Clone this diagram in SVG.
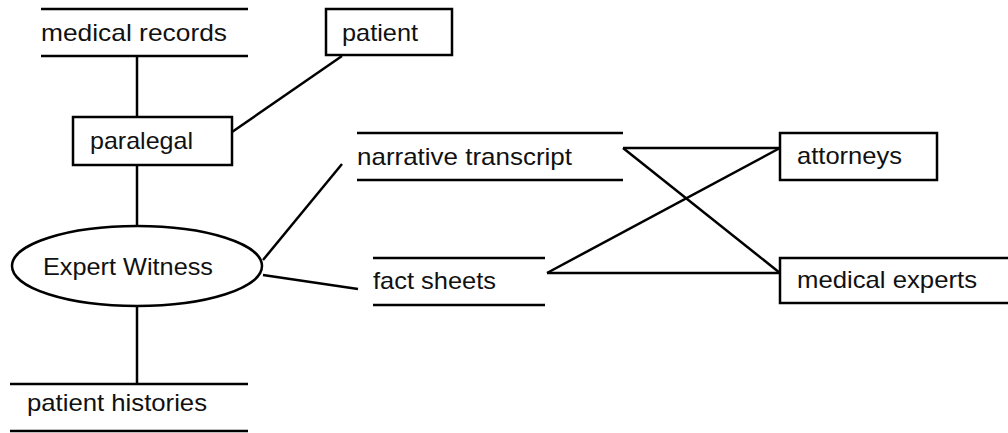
<svg xmlns="http://www.w3.org/2000/svg" width="1008" height="433" viewBox="0 0 1008 433">
<style>
.s{fill:none;stroke:#000;stroke-width:2.5}
.b{fill:#fff;stroke:#000;stroke-width:2.5}
.t{font-family:"Liberation Sans",Arial,sans-serif;font-size:24px;fill:#111}
</style>
<rect width="1008" height="433" fill="#fff"/>
<g id="connectors" class="s">
<line x1="137" y1="56" x2="137" y2="117"/>
<line x1="232" y1="132" x2="342" y2="56"/>
<line x1="137" y1="165" x2="137" y2="226"/>
<line x1="137" y1="306" x2="137" y2="384"/>
<line x1="263" y1="260" x2="342" y2="164"/>
<line x1="263" y1="275" x2="358" y2="289"/>
<line x1="623" y1="148" x2="780" y2="148"/>
<line x1="623" y1="148" x2="780" y2="273"/>
<line x1="547" y1="273" x2="780" y2="273"/>
<line x1="547" y1="273" x2="780" y2="148"/>
</g>
<g id="medical-records">
<line class="s" x1="41" y1="9" x2="248" y2="9"/>
<line class="s" x1="41" y1="56" x2="248" y2="56"/>
<text class="t" x="41" y="41" textLength="186" lengthAdjust="spacingAndGlyphs">medical records</text>
</g>
<g id="patient">
<rect class="b" x="326" y="9" width="126" height="46"/>
<text class="t" x="342" y="41" textLength="76" lengthAdjust="spacingAndGlyphs">patient</text>
</g>
<g id="paralegal">
<rect class="b" x="73" y="117" width="159" height="48"/>
<text class="t" x="90" y="149" textLength="103" lengthAdjust="spacingAndGlyphs">paralegal</text>
</g>
<g id="narrative-transcript">
<line class="s" x1="357" y1="133" x2="623" y2="133"/>
<line class="s" x1="357" y1="180" x2="623" y2="180"/>
<text class="t" x="357" y="165" textLength="215" lengthAdjust="spacingAndGlyphs">narrative transcript</text>
</g>
<g id="expert-witness">
<ellipse class="b" cx="137" cy="266" rx="125" ry="40"/>
<text class="t" x="43" y="275" textLength="170" lengthAdjust="spacingAndGlyphs">Expert Witness</text>
</g>
<g id="fact-sheets">
<line class="s" x1="373" y1="258" x2="545" y2="258"/>
<line class="s" x1="373" y1="305" x2="545" y2="305"/>
<text class="t" x="373" y="289" textLength="123" lengthAdjust="spacingAndGlyphs">fact sheets</text>
</g>
<g id="attorneys">
<rect class="b" x="780" y="133" width="157" height="47"/>
<text class="t" x="797" y="164" textLength="105" lengthAdjust="spacingAndGlyphs">attorneys</text>
</g>
<g id="medical-experts">
<rect class="b" x="780" y="258" width="240" height="45"/>
<text class="t" x="797" y="288" textLength="180" lengthAdjust="spacingAndGlyphs">medical experts</text>
</g>
<g id="patient-histories">
<line class="s" x1="10" y1="384" x2="248" y2="384"/>
<line class="s" x1="10" y1="431" x2="248" y2="431"/>
<text class="t" x="27" y="411" textLength="180" lengthAdjust="spacingAndGlyphs">patient histories</text>
</g>
</svg>
